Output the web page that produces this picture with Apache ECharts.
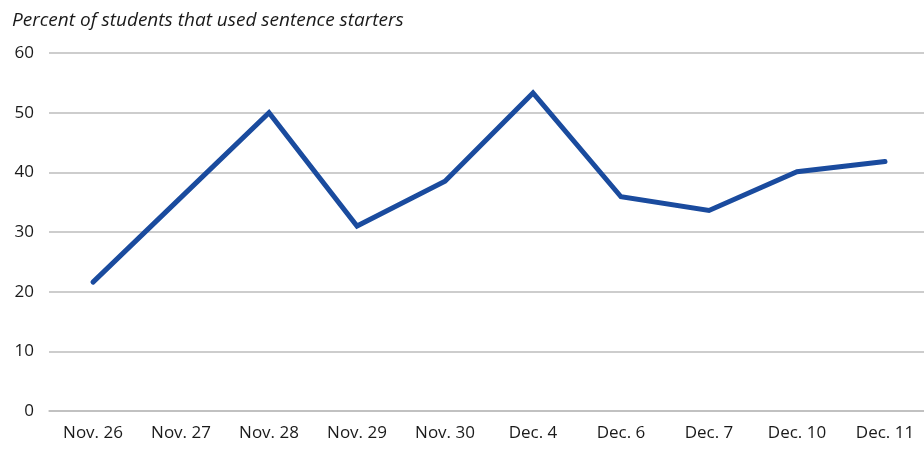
<!DOCTYPE html>
<html>
<head>
<meta charset="utf-8">
<script src="https://cdn.jsdelivr.net/npm/echarts@6/dist/echarts.min.js"></script>
<style>
  html, body { margin: 0; padding: 0; background: #fff; }
  #chart { width: 924px; height: 450px; }
</style>
</head>
<body>
<div id="chart"></div>
<script>
const categories = ['Nov. 26', 'Nov. 27', 'Nov. 28', 'Nov. 29', 'Nov. 30', 'Dec. 4', 'Dec. 6', 'Dec. 7', 'Dec. 10', 'Dec. 11']
const percentUsed = [21.6, 35.8, 50, 31, 38.5, 53.3, 35.9, 33.6, 40.1, 41.8]
const yTicks = [0, 10, 20, 30, 40, 50, 60]

const myChart = echarts.init(document.getElementById('chart'))
const option = {
  animation: false,
  title: {
    text: 'Percent of students that used sentence starters',
    left: 7,
    top: 6,
    textStyle: {
      color: '#1a1a1a',
      fontFamily: 'Open Sans',
      fontSize: 19,
      fontStyle: 'italic',
      fontWeight: 'normal'
    }
  },
  grid: {
    left: 49,
    width: 880,
    top: 53,
    bottom: 39,
    outerBoundsMode: 'none'
  },
  xAxis: {
    type: 'category',
    data: categories,
    boundaryGap: true,
    axisLine: { show: true, lineStyle: { color: '#bdbdbd', width: 1.5 } },
    axisTick: { show: false },
    axisLabel: {
      color: '#1a1a1a',
      fontFamily: 'Open Sans',
      fontSize: 17,
      margin: 14
    }
  },
  yAxis: {
    type: 'value',
    min: yTicks[0],
    max: yTicks[yTicks.length - 1],
    interval: 10,
    axisLine: { show: false },
    axisTick: { show: false },
    axisLabel: {
      color: '#1a1a1a',
      fontFamily: 'Open Sans',
      fontSize: 17,
      margin: 15
    },
    splitLine: {
      show: true,
      lineStyle: { color: '#bdbdbd', width: 1.5 }
    }
  },
  series: [
    {
      type: 'line',
      data: percentUsed,
      symbol: 'none',
      lineStyle: { color: '#1a4b9e', width: 5, cap: 'round', join: 'miter' }
    }
  ]
}
myChart.setOption(option)
</script>
</body>
</html>
